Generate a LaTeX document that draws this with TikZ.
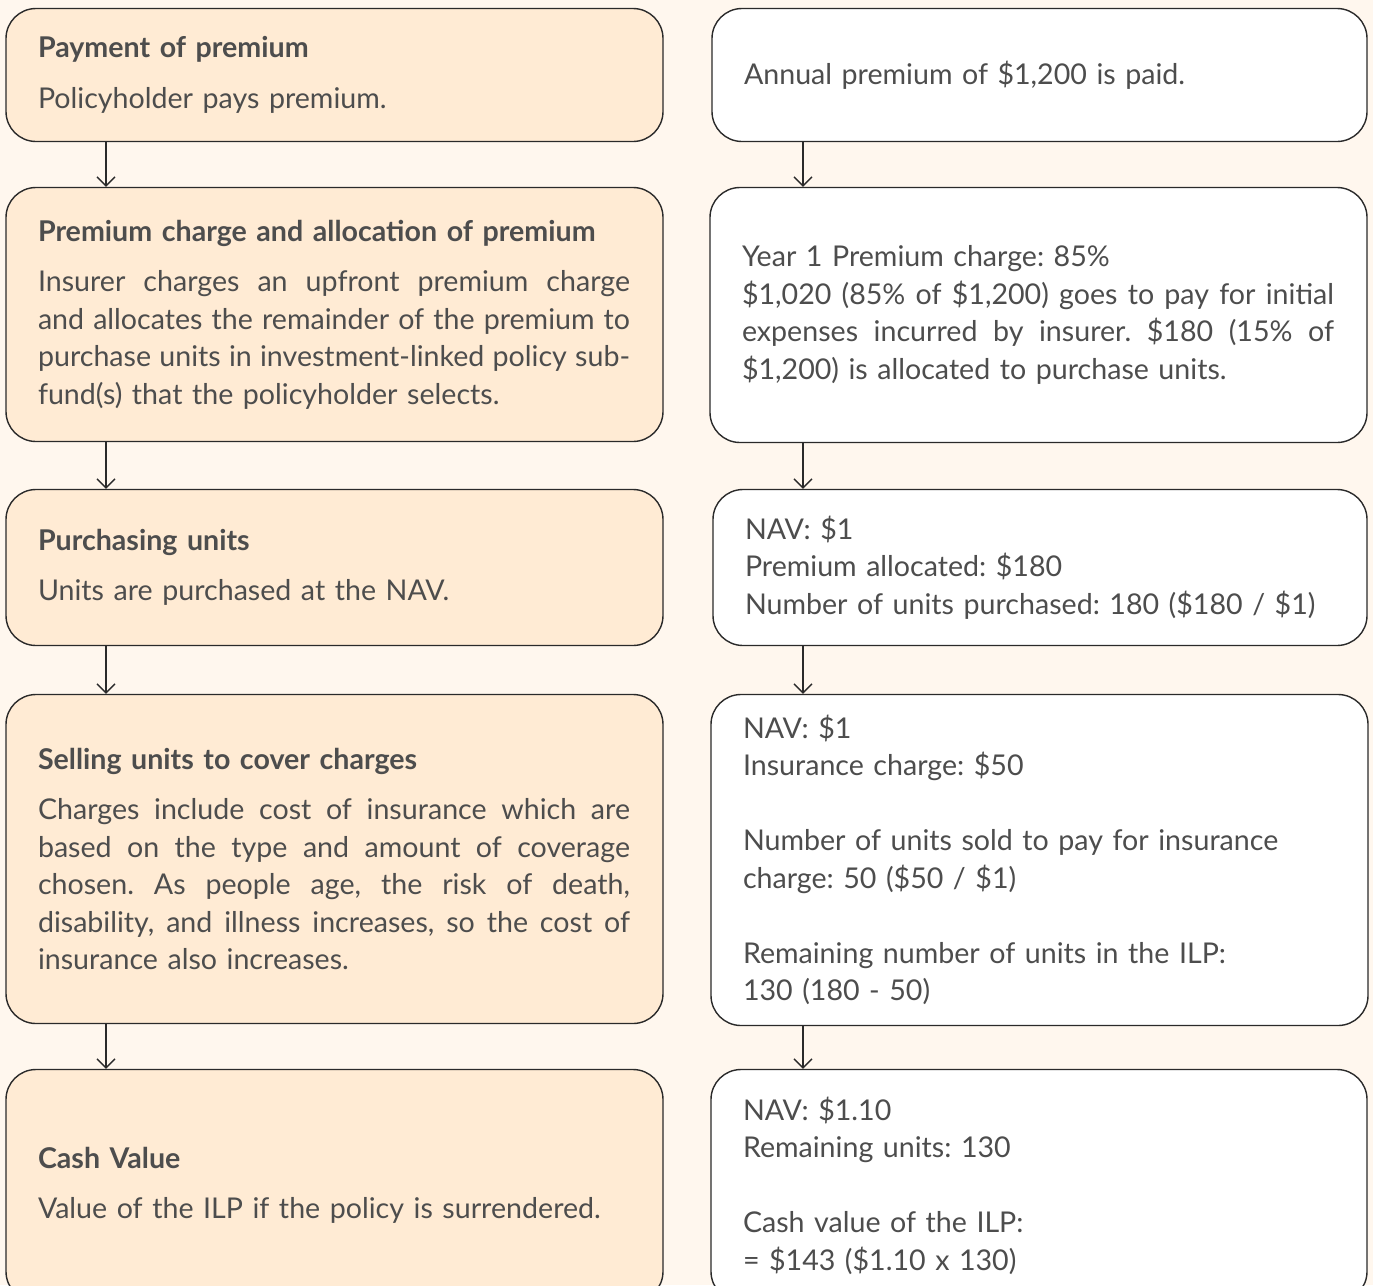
\documentclass[tikz,border=0pt]{standalone}
\usepackage{fontspec}
\setmainfont{Lato}
\usetikzlibrary{arrows.meta}
\definecolor{bgc}{HTML}{FFF7EE}
\definecolor{boxc}{HTML}{FFEBD4}
\definecolor{txtc}{HTML}{4D4D4D}
\definecolor{linec}{HTML}{2A2A2A}
\frenchspacing
\newcommand\jl[1]{\leavevmode\hbox to 592pt{\spaceskip=\fontdimen2\font plus 1fil\relax #1}}
\newcommand\ttl[1]{{\bfseries #1}}
\tikzset{
  box/.style={draw=linec, line width=1.4pt, rounded corners=30pt, rectangle,
    inner xsep=32pt, inner ysep=0pt, align=left, text=txtc,
    font=\fontsize{28.6}{37.5}\selectfont\frenchspacing, anchor=center},
  lbox/.style={box, fill=boxc},
  rbox/.style={box, fill=white},
  arr/.style={draw=linec, line width=1.3pt, -{Straight Barb[length=9pt,width=18pt]}}
}
\begin{document}
\begin{tikzpicture}[x=1pt,y=-1pt]
\useasboundingbox (0,0) rectangle (1373,1285);
\clip (0,0) rectangle (1373,1285);
\fill[bgc] (0,0) rectangle (1373,1285);
\coordinate (la) at (106,0);
\coordinate (ra) at (803,0);
% left column
\node[lbox, minimum width=657pt, minimum height=133pt, text width=593pt] (L1) at (334.5,75)
  {\ttl{Payment of premium}\\[13pt]Policyholder pays premium.};
\node[lbox, minimum width=657pt, minimum height=254pt, text width=593pt] (L2) at (334.5,314.5)
  {\ttl{Premium charge and allocation of premium}\\[13pt]
   \jl{Insurer charges an upfront premium charge}\\
   \jl{and allocates the remainder of the premium to}\\
   \jl{purchase units in investment-linked policy sub-}\\
   fund(s) that the policyholder selects.};
\node[lbox, minimum width=657pt, minimum height=156pt, text width=593pt] (L3) at (334.5,567.5)
  {\ttl{Purchasing units}\\[13pt]Units are purchased at the NAV.};
\node[lbox, minimum width=657pt, minimum height=329pt, text width=593pt] (L4) at (334.5,859)
  {\ttl{Selling units to cover charges}\\[13pt]
   \jl{Charges include cost of insurance which are}\\
   \jl{based on the type and amount of coverage}\\
   \jl{chosen. As people age, the risk of death,}\\
   \jl{disability, and illness increases, so the cost of}\\
   insurance also increases.};
\node[lbox, minimum width=657pt, minimum height=232pt, text width=593pt] (L5) at (334.5,1185.5)
  {\ttl{Cash Value}\\[13pt]Value of the ILP if the policy is surrendered.};
% right column
\node[rbox, minimum width=655pt, minimum height=133pt, text width=591pt] (R1) at (1039.5,75)
  {Annual premium of \$1,200 is paid.};
\node[rbox, minimum width=657pt, minimum height=255pt, text width=593pt] (R2) at (1038.5,315)
  {Year 1 Premium charge: 85\%\\
   \jl{\$1,020 (85\% of \$1,200) goes to pay for initial}\\
   \jl{expenses incurred by insurer. \$180 (15\% of}\\
   \$1,200) is allocated to purchase units.};
\node[rbox, minimum width=654pt, minimum height=156pt, text width=590pt] (R3) at (1040,567.5)
  {NAV: \$1\\Premium allocated: \$180\\Number of units purchased: 180 (\$180 / \$1)};
\node[rbox, minimum width=657pt, minimum height=331pt, text width=593pt] (R4) at (1039.5,860)
  {NAV: \$1\\Insurance charge: \$50\\[37.5pt]
   Number of units sold to pay for insurance\\charge: 50 (\$50 / \$1)\\[37.5pt]
   Remaining number of units in the ILP:\\130 (180 - 50)};
\node[rbox, minimum width=656pt, minimum height=232pt, text width=592pt] (R5) at (1039,1185.5)
  {NAV: \$1.10\\Remaining units: 130\\[37.5pt]Cash value of the ILP:\\= \$143 (\$1.10 x 130)};
% connectors
\draw[arr] (L1.south -| la) -- (L2.north -| la);
\draw[arr] (L2.south -| la) -- (L3.north -| la);
\draw[arr] (L3.south -| la) -- (L4.north -| la);
\draw[arr] (L4.south -| la) -- (L5.north -| la);
\draw[arr] (R1.south -| ra) -- (R2.north -| ra);
\draw[arr] (R2.south -| ra) -- (R3.north -| ra);
\draw[arr] (R3.south -| ra) -- (R4.north -| ra);
\draw[arr] (R4.south -| ra) -- (R5.north -| ra);
\end{tikzpicture}
\end{document}
